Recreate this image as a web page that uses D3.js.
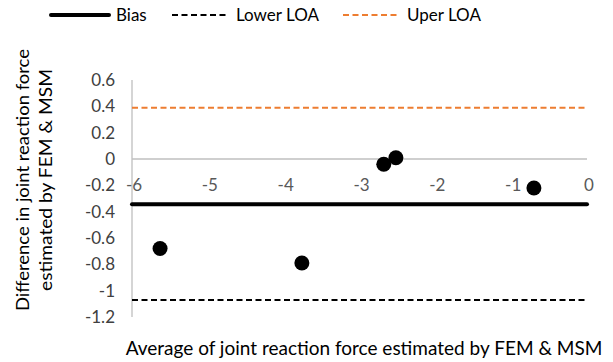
<!DOCTYPE html>
<html>
<head>
<meta charset="utf-8">
<script src="https://cdn.jsdelivr.net/npm/d3@7"></script>
<style>
  body { margin: 0; background: white; }
  text { font-family: Lato, "Open Sans", sans-serif; fill: #404040; }
</style>
</head>
<body>
<div id="vis"></div>
<script>
// data
let avgValues = [-5.63, -3.76, -2.68, -2.52, -0.70];
let diffValues = [-0.68, -0.79, -0.04, 0.01, -0.22];
let bias = -0.344;
let lowerLOA = -1.07;
let upperLOA = 0.39;
let xTicks = [-6, -5, -4, -3, -2, -1, 0];
let yTicks = [0.6, 0.4, 0.2, 0, -0.2, -0.4, -0.6, -0.8, -1, -1.2];

let width = 613, height = 362;

let svg = d3.select('#vis').append('svg')
  .attr('width', width)
  .attr('height', height);

let x = d3.scaleLinear().domain([-6, 0]).range([132, 587]);
let y = d3.scaleLinear().domain([-1.2, 0.6]).range([317, 80]);

// axes lines
svg.append('line')
  .attr('x1', x(-6)).attr('x2', x(-6))
  .attr('y1', y(0.6)).attr('y2', y(-1.2))
  .attr('stroke', '#bfbfbf').attr('stroke-width', 1.3);
svg.append('line')
  .attr('x1', x(-6)).attr('x2', x(0))
  .attr('y1', y(0)).attr('y2', y(0))
  .attr('stroke', '#bfbfbf').attr('stroke-width', 1.3);

// y tick labels
svg.selectAll('.ylab').data(yTicks).enter().append('text')
  .attr('x', 115)
  .attr('y', d => y(d))
  .attr('dy', '0.35em')
  .attr('text-anchor', 'end')
  .style('font-size', '17px')
  .text(d => d);

// x tick labels, below the zero line
svg.selectAll('.xlab').data(xTicks).enter().append('text')
  .attr('x', d => x(d) + 2)
  .attr('y', y(0) + 26)
  .attr('dy', '0.35em')
  .attr('text-anchor', 'middle')
  .style('font-size', '17px')
  .style('fill', '#595959')
  .text(d => d);

// reference lines
let refs = [
  { v: bias, color: '#000', w: 4, dash: null },
  { v: lowerLOA, color: '#000', w: 2, dash: '6,3.5' },
  { v: upperLOA, color: '#ed7d31', w: 2, dash: '6,3.5' }
];
svg.selectAll('.ref').data(refs).enter().append('line')
  .attr('x1', x(-6)).attr('x2', x(0))
  .attr('y1', d => y(d.v)).attr('y2', d => y(d.v))
  .attr('stroke', d => d.color)
  .attr('stroke-width', d => d.w)
  .attr('stroke-linecap', d => d.dash ? 'butt' : 'round')
  .attr('stroke-dasharray', d => d.dash);

// points
svg.selectAll('.pt').data(avgValues).enter().append('circle')
  .attr('cx', d => x(d))
  .attr('cy', (d, i) => y(diffValues[i]))
  .attr('r', 7.5)
  .attr('fill', '#000');

// legend
let legend = [
  { name: 'Bias', x1: 51, x2: 109, color: '#000', w: 4, dash: null },
  { name: 'Lower LOA', x1: 172, x2: 229, color: '#000', w: 2, dash: '6,3.5' },
  { name: 'Uper LOA', x1: 343, x2: 400, color: '#ed7d31', w: 2, dash: '6,3.5' }
];
let lg = svg.selectAll('.lg').data(legend).enter().append('g');
lg.append('line')
  .attr('x1', d => d.x1).attr('x2', d => d.x2)
  .attr('y1', 15).attr('y2', 15)
  .attr('stroke', d => d.color)
  .attr('stroke-width', d => d.w)
  .attr('stroke-linecap', d => d.dash ? 'butt' : 'round')
  .attr('stroke-dasharray', d => d.dash);
lg.append('text')
  .attr('x', d => d.x2 + 7)
  .attr('y', 15)
  .attr('dy', '0.35em')
  .style('font-size', '17px')
  .style('fill', '#000')
  .text(d => d.name);

// axis titles
svg.append('text')
  .attr('x', 364).attr('y', 348)
  .attr('dy', '0.35em')
  .attr('text-anchor', 'middle')
  .style('font-size', '19px')
  .style('fill', '#000')
  .text('Average of joint reaction force estimated by FEM & MSM');

let yt = svg.append('text')
  .attr('transform', 'translate(0,180) rotate(-90)')
  .attr('text-anchor', 'middle')
  .style('font-size', '18px')
  .style('fill', '#000');
yt.append('tspan').attr('x', 0).attr('y', 29)
  .attr('textLength', 262).attr('lengthAdjust', 'spacingAndGlyphs')
  .text('Difference in joint reaction force');
yt.append('tspan').attr('x', 0).attr('y', 52)
  .attr('textLength', 222).attr('lengthAdjust', 'spacingAndGlyphs')
  .text('estimated by FEM & MSM');
</script>
</body>
</html>
